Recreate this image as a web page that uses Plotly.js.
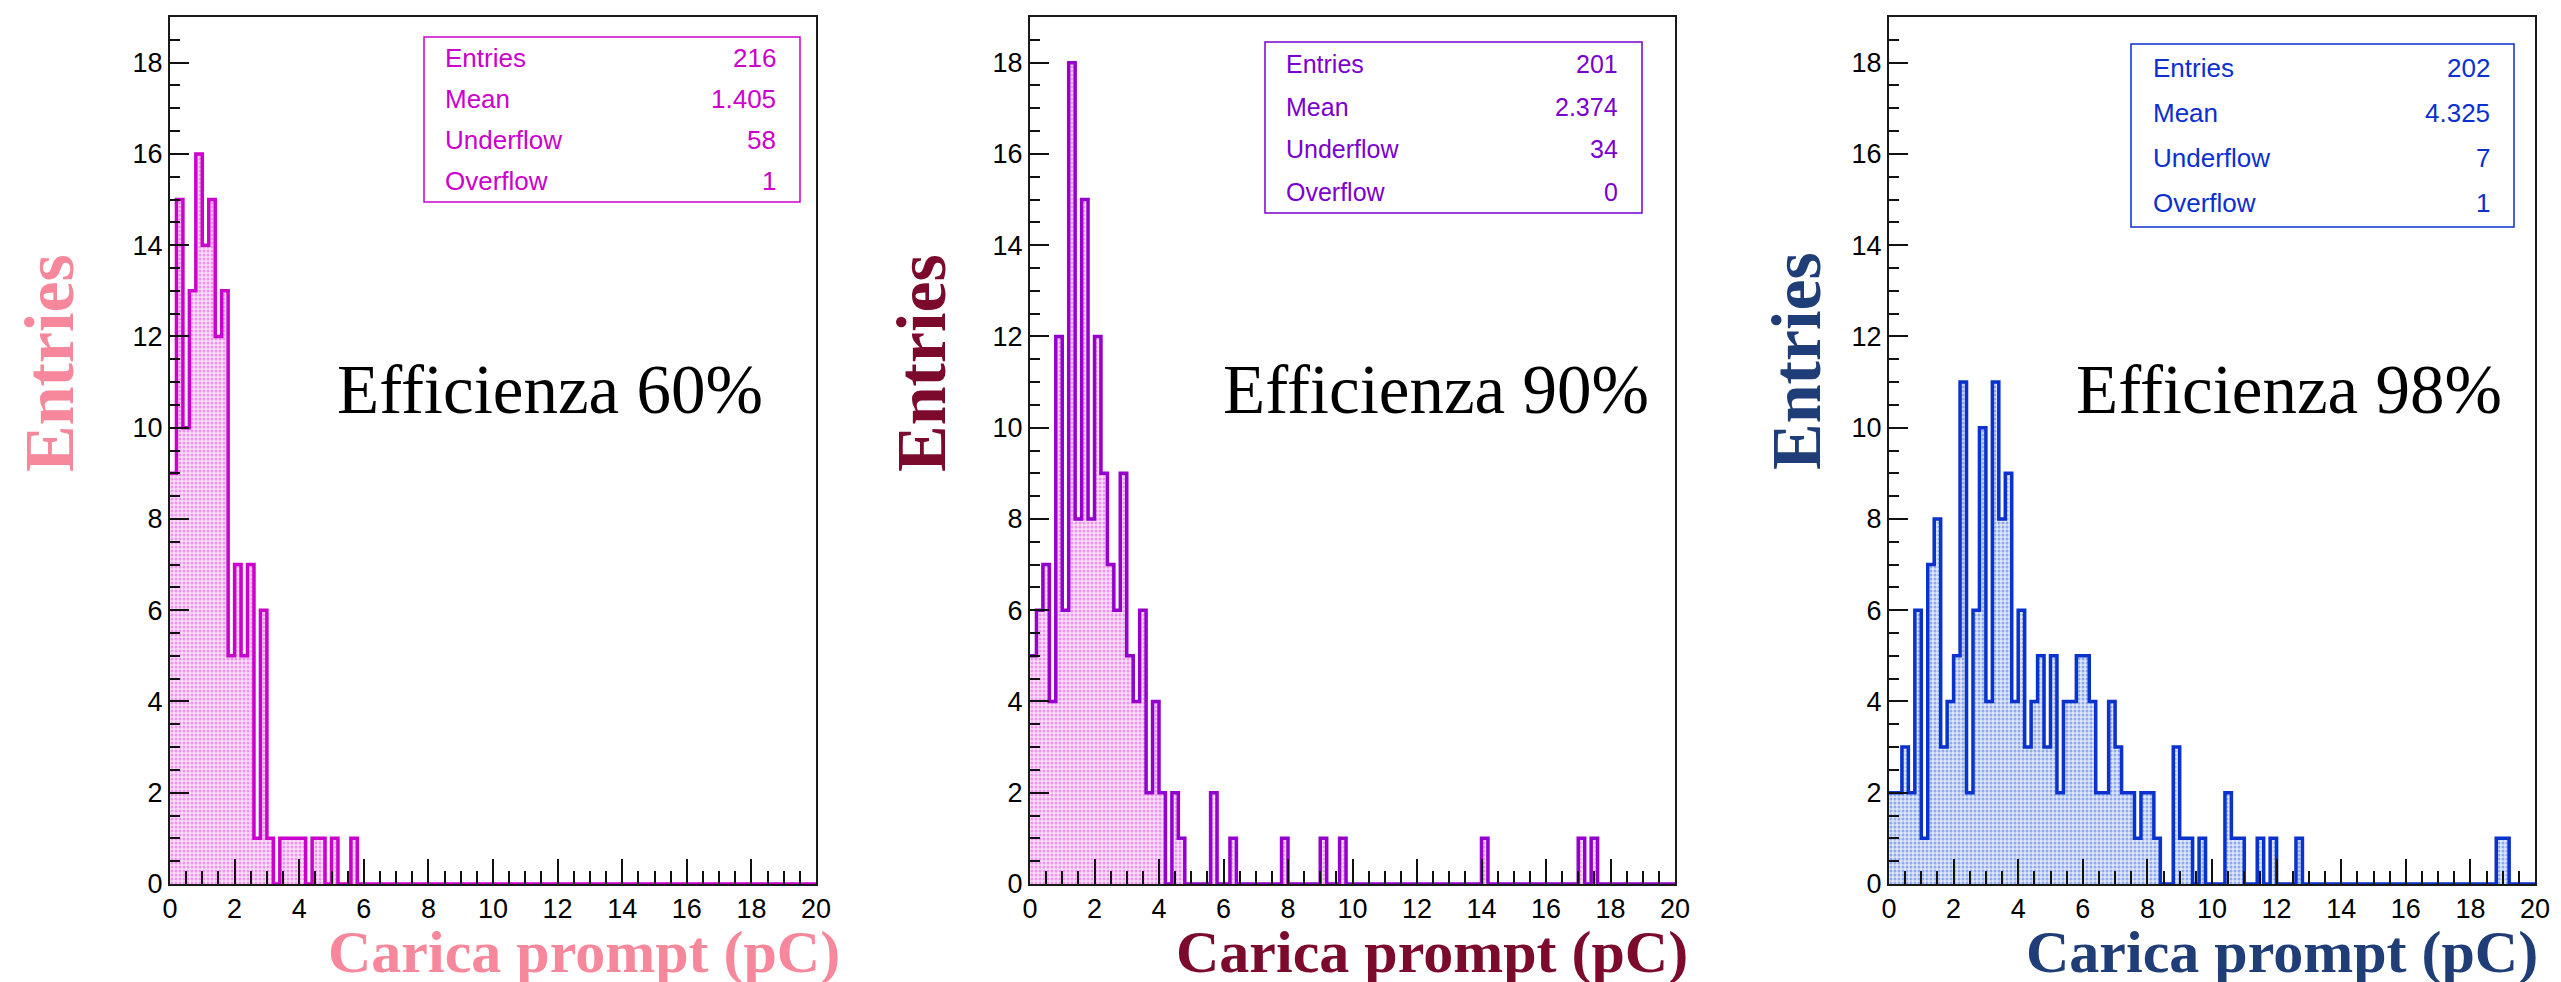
<!DOCTYPE html>
<html>
<head>
<meta charset="utf-8">
<script src="https://cdn.plot.ly/plotly-3.0.1.min.js"></script>
<style>
  html, body { margin: 0; padding: 0; background: #ffffff; }
  #chart { width: 2561px; height: 982px; }
</style>
</head>
<body>
<div id="chart"></div>
<script>
// Binning shared by the three charge spectra (100 bins of 0.2 pC from 0 to 20 pC)
const binLow = 0;
const binWidth = 0.2;

// Bin contents, 0-20 pC, one row of 20 bins per line
const countsEff60 = [
  9, 15, 10, 13, 16, 14, 15, 12, 13, 5, 7, 5, 7, 1, 6, 1, 0, 1, 1, 1,
  1, 0, 1, 1, 0, 1, 0, 0, 1, 0, 0, 0, 0, 0, 0, 0, 0, 0, 0, 0,
  0, 0, 0, 0, 0, 0, 0, 0, 0, 0, 0, 0, 0, 0, 0, 0, 0, 0, 0, 0,
  0, 0, 0, 0, 0, 0, 0, 0, 0, 0, 0, 0, 0, 0, 0, 0, 0, 0, 0, 0,
  0, 0, 0, 0, 0, 0, 0, 0, 0, 0, 0, 0, 0, 0, 0, 0, 0, 0, 0, 0
];
const countsEff90 = [
  5, 6, 7, 4, 12, 6, 18, 8, 15, 8, 12, 9, 7, 6, 9, 5, 4, 6, 2, 4,
  2, 0, 2, 1, 0, 0, 0, 0, 2, 0, 0, 1, 0, 0, 0, 0, 0, 0, 0, 1,
  0, 0, 0, 0, 0, 1, 0, 0, 1, 0, 0, 0, 0, 0, 0, 0, 0, 0, 0, 0,
  0, 0, 0, 0, 0, 0, 0, 0, 0, 0, 1, 0, 0, 0, 0, 0, 0, 0, 0, 0,
  0, 0, 0, 0, 0, 1, 0, 1, 0, 0, 0, 0, 0, 0, 0, 0, 0, 0, 0, 0
];
const countsEff98 = [
  2, 2, 3, 2, 6, 1, 7, 8, 3, 4, 5, 11, 2, 6, 10, 4, 11, 8, 9, 4,
  6, 3, 4, 5, 3, 5, 2, 4, 4, 5, 5, 4, 2, 2, 4, 3, 2, 2, 1, 2,
  2, 1, 0, 0, 3, 1, 1, 0, 1, 0, 0, 0, 2, 1, 1, 0, 0, 1, 0, 1,
  0, 0, 0, 1, 0, 0, 0, 0, 0, 0, 0, 0, 0, 0, 0, 0, 0, 0, 0, 0,
  0, 0, 0, 0, 0, 0, 0, 0, 0, 0, 0, 0, 0, 0, 1, 1, 0, 0, 0, 0
];

// Statistics box contents
const statLabels = ['Entries', 'Mean', 'Underflow', 'Overflow'];
const statEntries = ['216', '201', '202'];
const statMean = ['1.405', '2.374', '4.325'];
const statUnderflow = ['58', '34', '7'];
const statOverflow = ['1', '0', '1'];

// Panel captions and axis titles
const efficiencyLabels = ['Efficienza 60%', 'Efficienza 90%', 'Efficienza 98%'];
const xTitle = 'Carica prompt (pC)';
const yTitle = 'Entries';
const xTickValues = [0, 2, 4, 6, 8, 10, 12, 14, 16, 18, 20];
const yTickValues = [0, 2, 4, 6, 8, 10, 12, 14, 16, 18];

// ---------------------------------------------------------------------------
const W = 2561, H = 982;
const px = v => v / W;
const py = v => 1 - v / H;

const SANS = '"Liberation Sans", Arial, Helvetica, sans-serif';
const SERIF = '"Liberation Serif", "DejaVu Serif", "Times New Roman", serif';

// Per-panel geometry (pixels) and colours
const panels = [
  {
    counts: countsEff60,
    frame: { l: 170, r: 816, t: 17, b: 884 },
    line: '#cc00cc', fillBg: '#fbe0fa', fillFg: '#ee94ed',
    statColor: '#cc00cc', statBox: { l: 424, r: 800, t: 37, b: 202 },
    statText: { l: 443, r: 778, rows: [58, 99, 140, 181], size: 26 },
    titleColor: '#f7879a',
    yTitlePos: { x: 50, y: 363 },
    xTitleRight: 842,
    effPos: { x: 335, y: 390 }
  },
  {
    counts: countsEff90,
    frame: { l: 1030, r: 1675, t: 17, b: 884 },
    line: '#9400cc', fillBg: '#fbe0fa', fillFg: '#ee94ed',
    statColor: '#7a00d0', statBox: { l: 1265, r: 1642, t: 42, b: 213 },
    statText: { l: 1284, r: 1620, rows: [64, 107, 149, 192], size: 25 },
    titleColor: '#7b0a2c',
    yTitlePos: { x: 922, y: 363 },
    xTitleRight: 1690,
    effPos: { x: 1221, y: 390 }
  },
  {
    counts: countsEff98,
    frame: { l: 1889, r: 2535, t: 17, b: 884 },
    line: '#0a32cc', fillBg: '#dfe8fa', fillFg: '#8fa9ec',
    statColor: '#0b2fd0', statBox: { l: 2131, r: 2514, t: 44, b: 227 },
    statText: { l: 2151, r: 2492, rows: [68, 113, 158, 203], size: 26 },
    titleColor: '#1f3d76',
    yTitlePos: { x: 1796, y: 361 },
    xTitleRight: 2540,
    effPos: { x: 2074, y: 390 }
  }
];

const data = [];
const layout = {
  width: W, height: H,
  margin: { l: 0, r: 0, t: 0, b: 0 },
  paper_bgcolor: '#ffffff',
  plot_bgcolor: '#ffffff',
  showlegend: false,
  shapes: [],
  annotations: []
};

panels.forEach((p, i) => {
  const k = i + 1;
  const xa = 'x' + (k === 1 ? '' : k);
  const ya = 'y' + (k === 1 ? '' : k);

  // Step outline through the bin edges: each bin content held across its width
  const xs = [], ys = [];
  p.counts.forEach((c, j) => { xs.push(binLow + j * binWidth); ys.push(c); });
  xs.push(binLow + p.counts.length * binWidth);
  ys.push(p.counts[p.counts.length - 1]);

  data.push({
    type: 'scatter', mode: 'lines',
    x: xs, y: ys, xaxis: xa, yaxis: ya,
    line: { shape: 'hv', color: p.line, width: 3.5 },
    fill: 'tozeroy',
    fillcolor: p.fillBg,
    fillpattern: { shape: '.', bgcolor: p.fillBg, fgcolor: p.fillFg, size: 4, solidity: 0.45 },
    hoverinfo: 'skip'
  });

  const axisCommon = {
    showgrid: false, zeroline: false,
    showline: true, mirror: true, linecolor: '#1a1a1a', linewidth: 2,
    ticks: 'inside', tickcolor: '#111', tickwidth: 2,
    tickfont: { family: SANS, size: 27, color: '#000' },
    fixedrange: true
  };
  layout['xaxis' + (k === 1 ? '' : k)] = Object.assign({}, axisCommon, {
    domain: [px(p.frame.l), px(p.frame.r)],
    anchor: ya, range: [0, 20],
    tickmode: 'array', tickvals: xTickValues, ticktext: xTickValues.map(String),
    ticklen: 25,
    minor: { dtick: 0.5, tick0: 0, ticks: 'inside', ticklen: 13, tickwidth: 2, tickcolor: '#111' }
  });
  layout['yaxis' + (k === 1 ? '' : k)] = Object.assign({}, axisCommon, {
    domain: [py(p.frame.b), py(p.frame.t)],
    anchor: xa, range: [0, 19],
    tickmode: 'array', tickvals: yTickValues, ticktext: yTickValues.map(String),
    ticklen: 19,
    minor: { dtick: 0.5, tick0: 0, ticks: 'inside', ticklen: 10, tickwidth: 2, tickcolor: '#111' }
  });

  // Statistics box
  layout.shapes.push({
    type: 'rect', xref: 'paper', yref: 'paper',
    x0: px(p.statBox.l), x1: px(p.statBox.r),
    y0: py(p.statBox.b), y1: py(p.statBox.t),
    line: { color: p.statColor, width: 1.5 }, fillcolor: '#ffffff', layer: 'above'
  });
  const statValues = [statEntries[i], statMean[i], statUnderflow[i], statOverflow[i]];
  statLabels.forEach((lab, r) => {
    layout.annotations.push({
      xref: 'paper', yref: 'paper', showarrow: false,
      x: px(p.statText.l), y: py(p.statText.rows[r]),
      xanchor: 'left', yanchor: 'middle',
      text: lab, font: { family: SANS, size: p.statText.size, color: p.statColor }
    });
    layout.annotations.push({
      xref: 'paper', yref: 'paper', showarrow: false,
      x: px(p.statText.r), y: py(p.statText.rows[r]),
      xanchor: 'right', yanchor: 'middle',
      text: statValues[r], font: { family: SANS, size: p.statText.size, color: p.statColor }
    });
  });

  // Efficiency caption
  layout.annotations.push({
    xref: 'paper', yref: 'paper', showarrow: false,
    x: px(p.effPos.x), y: py(p.effPos.y),
    xanchor: 'left', yanchor: 'middle',
    text: efficiencyLabels[i], font: { family: SERIF, size: 69, color: '#000' }
  });

  // Axis titles
  layout.annotations.push({
    xref: 'paper', yref: 'paper', showarrow: false,
    x: px(p.yTitlePos.x), y: py(p.yTitlePos.y),
    xanchor: 'center', yanchor: 'middle', textangle: -90,
    text: '<b>' + yTitle + '</b>', font: { family: SERIF, size: 70, color: p.titleColor }
  });
  layout.annotations.push({
    xref: 'paper', yref: 'paper', showarrow: false,
    x: px(p.xTitleRight), y: py(952),
    xanchor: 'right', yanchor: 'middle',
    text: '<b>' + xTitle + '</b>', font: { family: SERIF, size: 60, color: p.titleColor }
  });
});

Plotly.newPlot('chart', data, layout, { staticPlot: true, displayModeBar: false });
</script>
</body>
</html>
